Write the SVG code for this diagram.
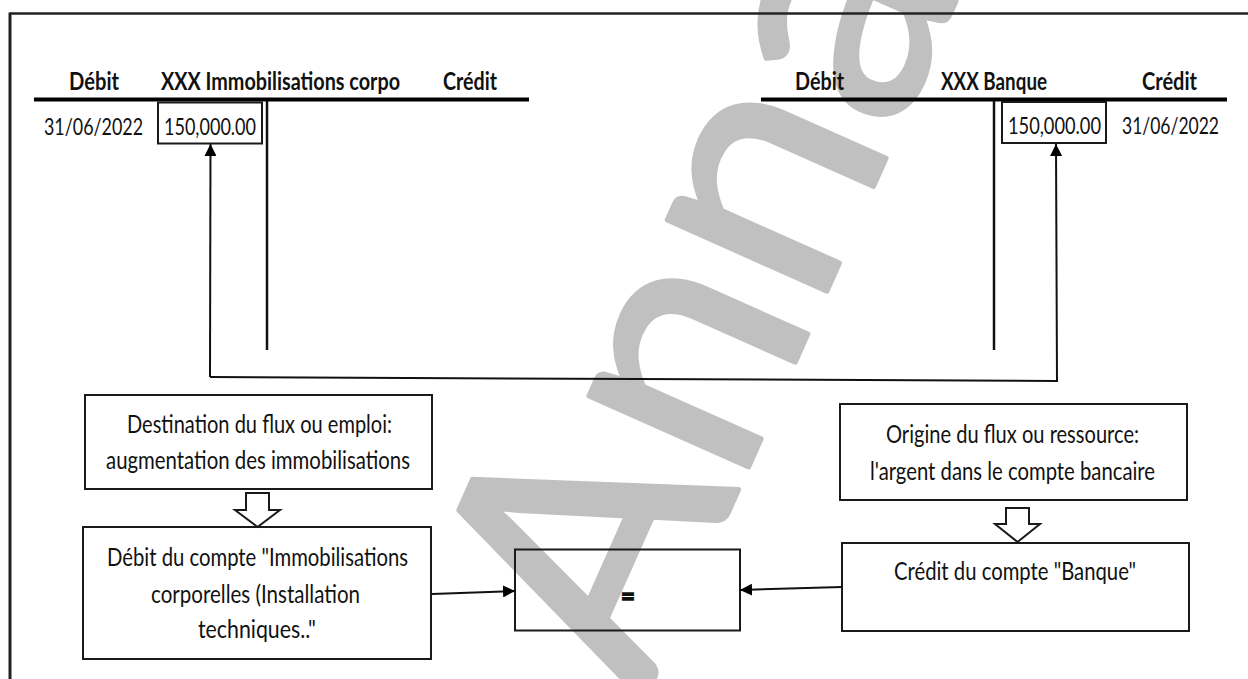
<svg xmlns="http://www.w3.org/2000/svg" width="1248" height="679" viewBox="0 0 1248 679">
<style>
.t{font-family:Lato,"Liberation Sans",sans-serif;font-size:25px;fill:#111;}
.h{font-family:Lato,"Liberation Sans",sans-serif;font-size:24px;font-weight:bold;fill:#111;}
.n{font-family:Lato,"Liberation Sans",sans-serif;font-size:23.5px;fill:#111;}
.box{fill:none;stroke:#1a1a1a;stroke-width:2;}
.thick{stroke:#000;stroke-width:4;}
.thin{stroke:#111;stroke-width:2.5;}
.conn{fill:none;stroke:#111;stroke-width:2;}
.hollow{fill:#fff;stroke:#1a1a1a;stroke-width:2;stroke-linejoin:miter;}
.wm{font-family:Lato,"Open Sans",sans-serif;font-size:345px;fill:#c0c0c0;stroke:#c0c0c0;stroke-width:5;stroke-linejoin:round;}
</style>
<defs>
<marker id="ah" markerUnits="userSpaceOnUse" markerWidth="13" markerHeight="12" refX="12" refY="6" orient="auto">
<path d="M0,0 L12,6 L0,12 z" fill="#000"/>
</marker>
</defs>
<rect x="0" y="0" width="1248" height="679" fill="#fff"/>
<g id="watermark">
<text class="wm" transform="translate(644,702) rotate(-66)">Anna</text>
</g>
<g id="frame">
<line x1="10" y1="13.5" x2="1248" y2="13.5" stroke="#222" stroke-width="2.5"/>
<line x1="10" y1="12.5" x2="10" y2="679" stroke="#222" stroke-width="3"/>
</g>
<g id="account-immobilisations">
<text class="h" transform="translate(94,89.5) scale(0.76,1)" text-anchor="middle" textLength="65.8" lengthAdjust="spacingAndGlyphs">Débit</text>
<text class="h" transform="translate(280.5,89.5) scale(0.76,1)" text-anchor="middle" textLength="314.5" lengthAdjust="spacingAndGlyphs">XXX Immobilisations corpo</text>
<text class="h" transform="translate(470,89.5) scale(0.76,1)" text-anchor="middle" textLength="71.1" lengthAdjust="spacingAndGlyphs">Crédit</text>
<line class="thick" x1="34" y1="99.5" x2="529" y2="99.5"/>
<line class="thin" x1="267" y1="101" x2="267" y2="350"/>
<text class="n" transform="translate(93.5,134.5) scale(0.76,1)" text-anchor="middle" textLength="130.3" lengthAdjust="spacingAndGlyphs">31/06/2022</text>
<rect class="box" x="158" y="102.5" width="104" height="41"/>
<text class="n" transform="translate(210,134.5) scale(0.76,1)" text-anchor="middle" textLength="121.1" lengthAdjust="spacingAndGlyphs">150,000.00</text>
</g>
<g id="account-banque">
<text class="h" transform="translate(819.5,89.5) scale(0.76,1)" text-anchor="middle" textLength="64.5" lengthAdjust="spacingAndGlyphs">Débit</text>
<text class="h" transform="translate(994,89.5) scale(0.76,1)" text-anchor="middle" textLength="139.5" lengthAdjust="spacingAndGlyphs">XXX Banque</text>
<text class="h" transform="translate(1169.5,89.5) scale(0.76,1)" text-anchor="middle" textLength="72.4" lengthAdjust="spacingAndGlyphs">Crédit</text>
<line class="thick" x1="761" y1="99.5" x2="1227" y2="99.5"/>
<line class="thin" x1="994" y1="101" x2="994" y2="350"/>
<rect class="box" x="1002" y="102" width="104" height="41"/>
<text class="n" transform="translate(1054.5,134) scale(0.76,1)" text-anchor="middle" textLength="122.4" lengthAdjust="spacingAndGlyphs">150,000.00</text>
<text class="n" transform="translate(1170.5,134) scale(0.76,1)" text-anchor="middle" textLength="127.6" lengthAdjust="spacingAndGlyphs">31/06/2022</text>
</g>
<g id="box-destination">
<rect class="box" x="85" y="395" width="347" height="94"/>
<text class="t" transform="translate(259.5,433) scale(0.76,1)" text-anchor="middle" textLength="348.7" lengthAdjust="spacingAndGlyphs">Destination du flux ou emploi:</text>
<text class="t" transform="translate(258,469) scale(0.76,1)" text-anchor="middle" textLength="400" lengthAdjust="spacingAndGlyphs">augmentation des immobilisations</text>
</g>
<g id="box-debit-compte">
<rect class="box" x="83" y="527" width="348" height="132"/>
<text class="t" transform="translate(257.5,566) scale(0.76,1)" text-anchor="middle" textLength="396.1" lengthAdjust="spacingAndGlyphs">Débit du compte "Immobilisations</text>
<text class="t" transform="translate(255.5,602.5) scale(0.76,1)" text-anchor="middle" textLength="275" lengthAdjust="spacingAndGlyphs">corporelles (Installation</text>
<text class="t" transform="translate(257,638) scale(0.76,1)" text-anchor="middle" textLength="155.3" lengthAdjust="spacingAndGlyphs">techniques.."</text>
</g>
<g id="box-egal">
<rect class="box" x="515" y="549.5" width="225" height="81"/>
<text class="h" x="628" y="605" text-anchor="middle" font-size="36" stroke="#111" stroke-width="1.4">=</text>
</g>
<g id="box-origine">
<rect class="box" x="840" y="404" width="347" height="96"/>
<text class="t" transform="translate(1012.5,443) scale(0.76,1)" text-anchor="middle" textLength="332.9" lengthAdjust="spacingAndGlyphs">Origine du flux ou ressource:</text>
<text class="t" transform="translate(1012.5,480) scale(0.76,1)" text-anchor="middle" textLength="375" lengthAdjust="spacingAndGlyphs">l'argent dans le compte bancaire</text>
</g>
<g id="box-credit-compte">
<rect class="box" x="842" y="543" width="347" height="88"/>
<text class="t" transform="translate(1015,580) scale(0.76,1)" text-anchor="middle" textLength="318.4" lengthAdjust="spacingAndGlyphs">Crédit du compte "Banque"</text>
</g>
<g id="connectors">
<polyline class="conn" points="210,377 1057,381 1056,144" marker-end="url(#ah)"/>
<line class="conn" x1="210" y1="377" x2="210.5" y2="144" marker-end="url(#ah)"/>
<line class="conn" x1="432" y1="594" x2="515" y2="591" marker-end="url(#ah)"/>
<line class="conn" x1="842" y1="587" x2="740" y2="590" marker-end="url(#ah)"/>
<path class="hollow" d="M246,493 H269 V510 H280 L257.5,527 L235,510 H246 Z"/>
<path class="hollow" d="M1006,508 H1029 V524 H1040 L1017.5,542 L995,524 H1006 Z"/>
</g>
</svg>
